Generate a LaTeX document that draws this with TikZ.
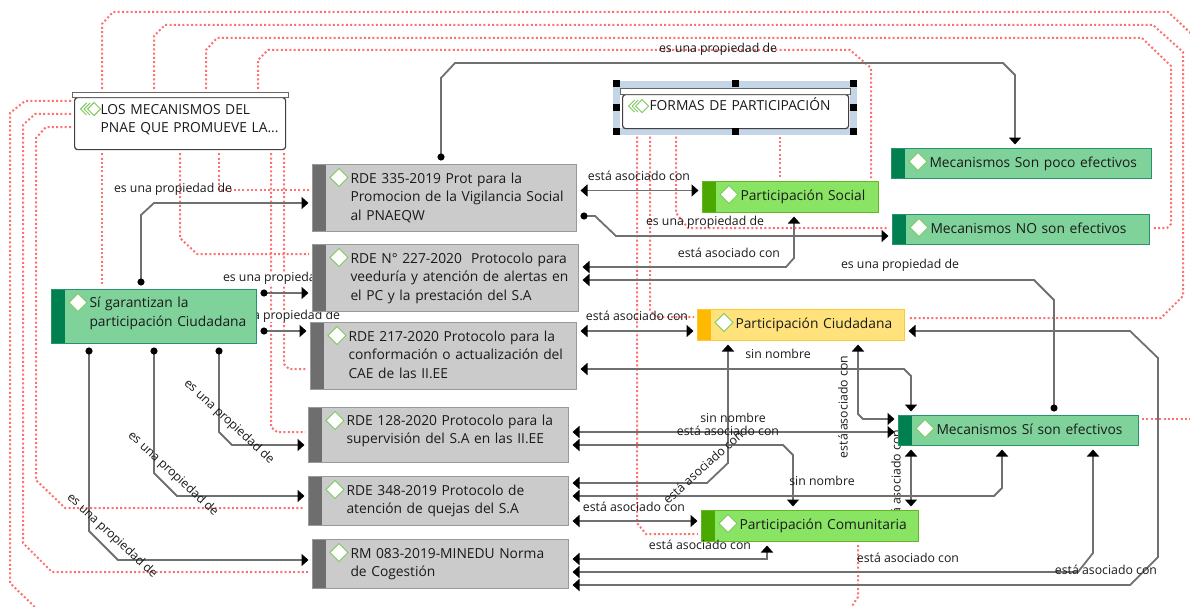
\documentclass[tikz,border=0pt]{standalone}
\usepackage{fontspec}
\setmainfont{Open Sans}
\usetikzlibrary{arrows.meta,backgrounds}
\definecolor{inkc}{HTML}{1A1A1A}
\definecolor{linec}{HTML}{707070}
\definecolor{dotc}{HTML}{FF7070}
\definecolor{rdefill}{HTML}{CBCBCB}
\definecolor{rdeband}{HTML}{6E6E6E}
\definecolor{rdeedge}{HTML}{999999}
\definecolor{mecfill}{HTML}{80D29B}
\definecolor{mecband}{HTML}{008050}
\definecolor{limefill}{HTML}{8AE464}
\definecolor{limeband}{HTML}{4BA800}
\definecolor{yelfill}{HTML}{FFE27B}
\definecolor{yelband}{HTML}{FFB900}
\definecolor{selc}{HTML}{C5D5E8}
\definecolor{iconc}{HTML}{7DC95E}
\newcommand{\boxtxt}[2][38pt]{\hspace*{#1}\begin{tabular}[c]{@{}l@{}}#2\end{tabular}}
\tikzset{
  >={Triangle[length=7pt,width=12pt,color=black]},
  bul/.tip={Circle[length=7pt,color=black]}
}
\begin{document}
\begin{tikzpicture}[x=1pt,y=-1pt,
    tagbox/.style n args={3}{draw=#1, fill=#2, line width=1pt, anchor=north west, inner sep=0pt,
      align=left, text=inkc, font=\fontsize{13.8}{18.5}\selectfont,
      path picture={
        \fill[#3] (path picture bounding box.north west) rectangle ([xshift=13pt]path picture bounding box.south west);
        \filldraw[fill=white, draw=iconc, line width=1pt] ([shift={(26.5,4)}]path picture bounding box.north west) -- ++(9,9) -- ++(-9,9) -- ++(-9,-9) -- cycle;}},
    tagsize/.style 2 args={text width=#1pt, minimum width=#1pt, minimum height=#2pt},
    rdebox/.style={tagbox={rdeedge}{rdefill}{rdeband}},
    mecbox/.style={tagbox={mecband!85!white}{mecfill}{mecband}},
    limebox/.style={tagbox={limeband!85!white}{limefill}{limeband}},
    yelbox/.style={tagbox={yelband!80!white}{yelfill}{yelband}},
    notebox/.style={draw=black!75, fill=white, line width=1.2pt, rounded corners=3pt, anchor=north west, inner sep=0pt,
      align=left, text=inkc, font=\fontsize{13.8}{18.5}\selectfont,
      path picture={
        \draw[iconc, sharp corners, line width=1pt] ([shift={(19.5,5)}]path picture bounding box.north west) -- ++(6.5,6.5) -- ++(-6.5,6.5) -- ++(-6.5,-6.5) -- cycle;
        \draw[iconc, sharp corners, line width=1pt] ([shift={(12,5.5)}]path picture bounding box.north west) -- ++(-6,6) -- ++(6,6);
        \draw[iconc, sharp corners, line width=1pt] ([shift={(15.5,5.5)}]path picture bounding box.north west) -- ++(-6,6) -- ++(6,6);}},
    notebar/.style={draw=black!60, fill=white, line width=1pt, anchor=north west, inner sep=0pt},
    conn/.style={draw=linec, line width=1.8pt, shorten <=3.5pt, shorten >=3.5pt},
    dotline/.style={draw=dotc, line width=2pt, dash pattern=on 2pt off 2.3pt, shorten <=3pt, shorten >=3pt},
    lbl/.style={text=inkc, inner sep=0pt, font=\fontsize{12.3}{14}\selectfont}
]
\useasboundingbox (0,0) rectangle (1190,607);

% notes
\fill[selc] (613,81) rectangle (857,135);
\fill[white] (620,88) rectangle (850,128);
\node[notebox, minimum width=226pt, minimum height=34pt, text width=226pt] (formas) at (622,94)
  {\raisebox{1pt}[0pt][0pt]{\boxtxt[27pt]{FORMAS DE PARTICIPACIÓN}}};
\node[notebar, minimum width=230pt, minimum height=6pt] (formasbar) at (620,88) {};
\foreach \hx/\hy in {616/84,735/84,853/84,616/108,853/108,616/131,735/131,853/131}
  \fill[black] (\hx-3.5,\hy-3.5) rectangle (\hx+3.5,\hy+3.5);
\node[notebox, minimum width=211pt, minimum height=52pt, text width=211pt] (mecan) at (74,97)
  {\raisebox{0pt}[0pt][0pt]{\boxtxt[26pt]{LOS MECANISMOS DEL\\PNAE QUE PROMUEVE LA...}}};
\node[notebar, minimum width=216pt, minimum height=5pt] (mecanbar) at (72,92) {};

% protocolos
\node[rdebox, tagsize={264}{67}] (rde335) at (312,164) {\boxtxt{RDE 335-2019 Prot para la\\Promocion de la Vigilancia Social\\al PNAEQW}};
\node[rdebox, tagsize={266}{67}] (rde227) at (312,244) {\boxtxt{RDE N° 227-2020~ Protocolo para\\veeduría y atención de alertas en\\el PC y la prestación del S.A}};
\node[rdebox, tagsize={266}{67}] (rde217) at (310,322) {\boxtxt{RDE 217-2020 Protocolo para la\\conformación o actualización del\\CAE de las II.EE}};
\node[rdebox, tagsize={260}{55}] (rde128) at (308,407) {\raisebox{0.5pt}[0pt][0pt]{\boxtxt{RDE 128-2020 Protocolo para la\\supervisión del S.A en las II.EE}}};
\node[rdebox, tagsize={260}{49}] (rde348) at (308,476) {\boxtxt{RDE 348-2019 Protocolo de\\atención de quejas del S.A}};
\node[rdebox, tagsize={256}{49}] (rm083) at (312,539) {\boxtxt{RM 083-2019-MINEDU Norma\\de Cogestión}};

% conclusiones y formas
\node[mecbox, tagsize={205}{54}] (sigar) at (51,289) {\raisebox{-0.5pt}[0pt][0pt]{\boxtxt{Sí garantizan la\\participación Ciudadana}}};
\node[mecbox, tagsize={260}{30}] (mpoco) at (891,148) {\boxtxt{Mecanismos Son poco efectivos}};
\node[mecbox, tagsize={257}{30}] (mno) at (892,214) {\boxtxt{Mecanismos NO son efectivos}};
\node[mecbox, tagsize={240}{30}] (msi) at (898,415) {\boxtxt{Mecanismos Sí son efectivos}};
\node[limebox, tagsize={176}{31}] (psocial) at (702,181) {\boxtxt{Participación Social}};
\node[yelbox, tagsize={207}{31}] (pciud) at (697,309) {\boxtxt{Participación Ciudadana}};
\node[limebox, tagsize={217}{31}] (pcomu) at (701,510) {\boxtxt{Participación Comunitaria}};

% salen del cuadro
\coordinate (exittop) at (1196,38);
\coordinate (exitright) at (1196,419);
\coordinate (exitleft) at (40,612);
\coordinate (exitlow) at (848,612);

\begin{pgfonlayer}{background}
% punteadas: los mecanismos
\draw[dotline] (mecanbar.north -| 102,0) -- (102,24) -- (113,12) -- (1168,12) -- (exittop);
\draw[dotline] (mecanbar.north -| 154,0) -- (154,36) -- (165,25) -- (1153,25) -- (1183,52) -- (1183,296) -- (1161,318) -- (pciud.east |- 0,318);
\draw[dotline] (mecanbar.north -| 206,0) -- (206,50) -- (217,38) -- (1142,38) -- (1171,66) -- (1171,224) -- (1167,228) -- (mno.east |- 0,228);
\draw[dotline] (mecanbar.north -| 258,0) -- (258,60) -- (268,50) -- (850,50) -- (871,68) -- (psocial.north -| 871,0);
\draw[dotline] (mecan.west |- 0,101) -- (25,101) -- (10,113) -- (10,583) -- (exitleft);
\draw[dotline] (mecan.west |- 0,114) -- (35,114) -- (23,125) -- (23,543) -- (52,572) -- (rm083.west |- 0,572);
\draw[dotline] (mecan.west |- 0,127) -- (46,127) -- (36,138) -- (36,480) -- (65,508) -- (rde348.west |- 0,508);
\draw[dotline] (mecan.south -| 102,0) -- (sigar.north -| 102,0);
\draw[dotline] (mecan.south -| 180,0) -- (180,238) -- (197,254) -- (rde227.west |- 0,254);
\draw[dotline] (mecan.south -| 219,0) -- (219,190) -- (rde335.west |- 0,190);
\draw[dotline] (mecan.south -| 271,0) -- (271,427) -- (277,432) -- (rde128.west |- 0,432);
\draw[dotline] (mecan.south -| 284,0) -- (284,364) -- (289,369) -- (rde217.west |- 0,369);
% punteadas: formas
\draw[dotline] (formas.south -| 637,0) -- (637,523) -- (646,534) -- (pcomu.west |- 0,534);
\draw[dotline] (formas.south -| 650,0) -- (650,310) -- (656,317) -- (pciud.west |- 0,317);
\draw[dotline] (formas.south -| 676,0) -- (676,213) -- (688,228) -- (mno.west |- 0,228);
\draw[dotline] (formas.south -| 780,0) -- (psocial.north -| 780,0);
\draw[dotline] (msi.east |- 0,419) -- (exitright);
\draw[dotline] (pcomu.south -| 858,0) -- (858,597) -- (exitlow);
% etiquetas que pasan bajo los cuadros
\node[lbl, fill=white] (lblb) at (282,278) {es una propiedad de};
\node[lbl, fill=white] (lblc) at (281,316) {es una propiedad de};
\node[lbl, rotate=90] (lblr) at (896,481) {está asociado con};
\end{pgfonlayer}

% sale de sí garantizan
\draw[conn,bul->] (sigar.north -| 141,0) -- (141,215) -- (154,203) -- (rde335.west |- 0,203);
\draw[conn,bul->] (sigar.east |- 0,293) -- (rde227.west |- 0,293);
\draw[conn,bul->] (sigar.east |- 0,331) -- (rde217.west |- 0,331);
\draw[conn,bul->] (sigar.south -| 219,0) -- (219,432) -- (232,445) -- (rde128.west |- 0,445);
\draw[conn,bul->] (sigar.south -| 154,0) -- (154,473) -- (177,496) -- (rde348.west |- 0,496);
\draw[conn,bul->] (sigar.south -| 89,0) -- (89,531) -- (118,560) -- (rm083.west |- 0,560);
% propiedades
\draw[conn,bul->] (rde335.north -| 441,0) -- (441,78) -- (455,63) -- (1003,63) -- (1015,75) -- (mpoco.north -| 1015,0);
\draw[conn,bul->] (rde335.east |- 0,216) -- (595,216) -- (616,236) -- (mno.west |- 0,236);
\draw[conn,bul->] (msi.north -| 1054,0) -- (1054,300) -- (1034,280) -- (rde227.east |- 0,280);
% asociados
\draw[conn,<->] (rde335.east |- 0,190.5) -- (psocial.west |- 0,190.5);
\draw[conn,<->] (rde227.east |- 0,267) -- (786,267) -- (794,258) -- (psocial.south -| 794,0);
\draw[conn,<->] (rde217.east |- 0,331) -- (pciud.west |- 0,331);
\draw[conn,<->] (rde217.east |- 0,369) -- (904,369) -- (911,376) -- (msi.north -| 911,0);
\draw[conn,<->] (rde128.east |- 0,432) -- (msi.west |- 0,432);
\draw[conn,<->] (rde128.east |- 0,445) -- (783,445) -- (793,455) -- (pcomu.north -| 793,0);
\draw[conn,<->] (rde348.east |- 0,483) -- (707,483) -- (728,463) -- (pciud.south -| 728,0);
\draw[conn,<->] (rde348.east |- 0,496) -- (994,496) -- (1002,488) -- (msi.south -| 1002,0);
\draw[conn,<->] (rde348.east |- 0,521) -- (pcomu.west |- 0,521);
\draw[conn,<->] (rm083.east |- 0,559) -- (767,559) -- (pcomu.south -| 767,0);
\draw[conn,<->] (rm083.east |- 0,572) -- (1078,572) -- (1093,553) -- (msi.south -| 1093,0);
\draw[conn,<->] (rm083.east |- 0,585) -- (1130,585) -- (1158,557) -- (1158,358) -- (1130,331) -- (pciud.east |- 0,331);
\draw[conn,<->] (pciud.south -| 858,0) -- (858,414) -- (863,419) -- (msi.west |- 0,419);
\draw[conn,<->] (msi.south -| 911,0) -- (pcomu.north -| 911,0);

% etiquetas
\node[lbl] (lbla) at (173,189) {es una propiedad de};
\node[lbl] (lbld) at (718,49) {es una propiedad de};
\node[lbl] (lble) at (705,222) {es una propiedad de};
\node[lbl] (lblf) at (900,265) {es una propiedad de};
\node[lbl, rotate=-43] (lblg) at (229,422) {es una propiedad de};
\node[lbl, rotate=-43] (lblh) at (173,474) {es una propiedad de};
\node[lbl, rotate=-43] (lbli) at (112,536) {es una propiedad de};
\node[lbl] (lblj) at (639,176) {está asociado con};
\node[lbl] (lblk) at (729,253) {está asociado con};
\node[lbl] (lbll) at (637,316) {está asociado con};
\node[lbl] (lblm) at (728,431) {está asociado con};
\node[lbl] (lbln) at (634,507) {está asociado con};
\node[lbl] (lblo) at (700,545) {está asociado con};
\node[lbl] (lblp) at (908,558) {está asociado con};
\node[lbl] (lblq) at (1106,570) {está asociado con};
\node[lbl, rotate=42] (lbls) at (703,467) {está asociado con};
\node[lbl, rotate=90] (lblt) at (843,407) {está asociado con};
\node[lbl] (lblu) at (778,354) {sin nombre};
\node[lbl] (lblv) at (733,418) {sin nombre};
\node[lbl] (lblw) at (822,481) {sin nombre};
\end{tikzpicture}
\end{document}
